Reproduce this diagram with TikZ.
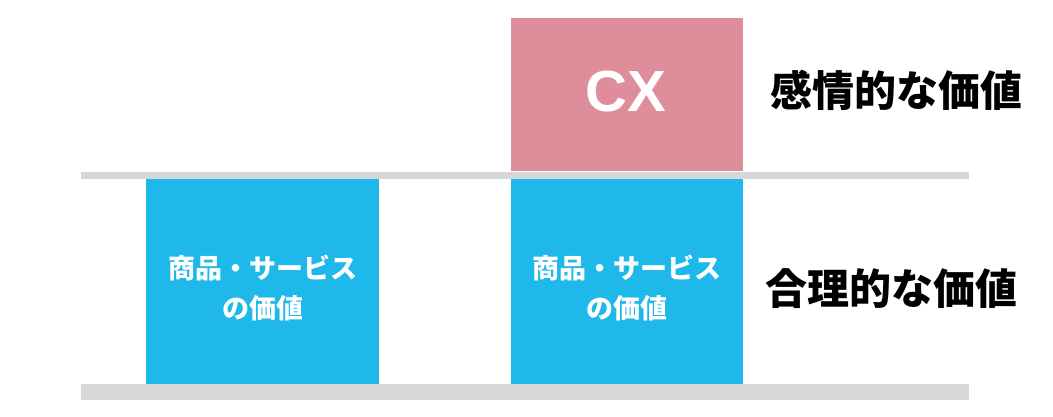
\documentclass[tikz,border=0pt]{standalone}
\usepackage{fontspec}
\setmainfont{Liberation Sans}
\newfontfamily\jp{Noto Sans CJK JP}
\definecolor{cxpink}{HTML}{DE8E9B}
\definecolor{valblue}{HTML}{1FB8EA}
\definecolor{bargray}{HTML}{D5D7D8}
\tikzset{
  bar/.style={fill=bargray, draw=none},
  pinkbox/.style={fill=cxpink, draw=none},
  bluebox/.style={fill=valblue, draw=none},
  boxtext/.style={text=white, font=\jp\bfseries\fontsize{27}{40}\selectfont, align=center, inner sep=0pt},
  sidetext/.style={text=black, font=\jp\bfseries\fontsize{42}{50}\selectfont, inner sep=0pt},
  cxtext/.style={text=white, font=\bfseries\fontsize{58}{60}\selectfont, inner sep=0pt}
}
\begin{document}
\begin{tikzpicture}[x=1pt,y=-1pt]
\useasboundingbox (0,0) rectangle (1053,417);
\fill[white] (0,0) rectangle (1053,417);
% bars
\path[bar] (81,172) rectangle (969,179.5);
\path[bar] (81,383.5) rectangle (969,400);
% boxes
\path[pinkbox] (511,18) rectangle (743,171.5);
\path[bluebox] (146,179.5) rectangle (379,383.5);
\path[bluebox] (511,179.5) rectangle (743,383.5);
% texts
\node[cxtext] (cx) at (625.5,92) {CX};
\node[boxtext] (left) at (262.5,288) {商品・サービス\\の価値};
\node[boxtext] (right) at (627,288) {商品・サービス\\の価値};
\node[sidetext] (emo) at (896,90) {感情的な価値};
\node[sidetext] (rat) at (891,289) {合理的な価値};
\end{tikzpicture}
\end{document}
